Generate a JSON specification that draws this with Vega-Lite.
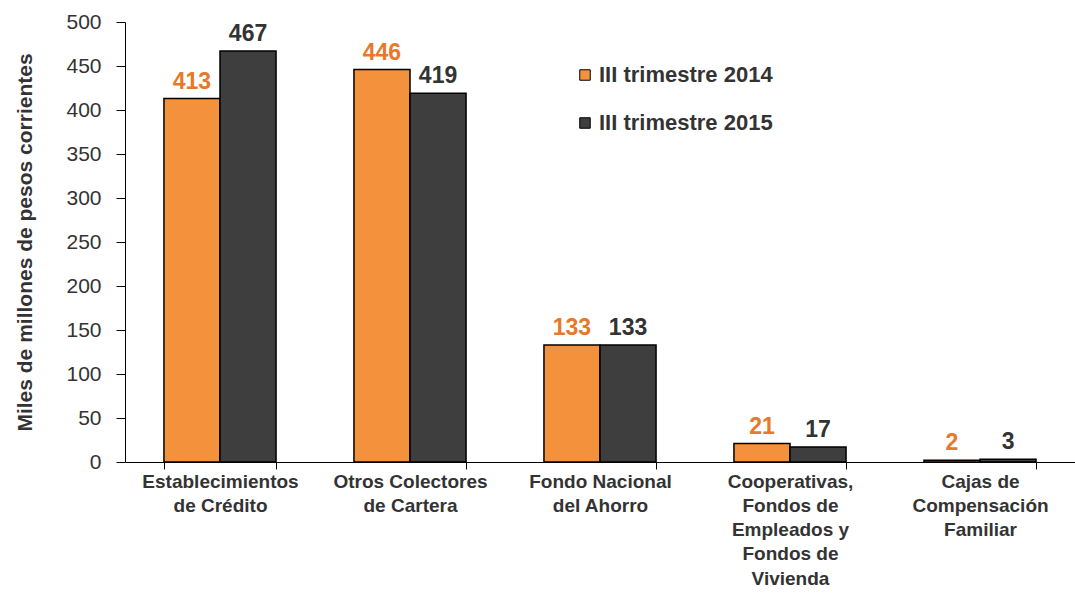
{
  "$schema": "https://vega.github.io/schema/vega-lite/v6.json",
  "width": 950,
  "height": 440,
  "autosize": "none",
  "padding": {"left": 125, "top": 22, "right": 0, "bottom": 131},
  "background": "white",
  "config": {"view": {"stroke": null}, "font": "Liberation Sans"},
  "data": {
    "values": [
      {"cat": "Establecimientos|de Crédito", "year": "III trimestre 2014", "value": 413},
      {"cat": "Establecimientos|de Crédito", "year": "III trimestre 2015", "value": 467},
      {"cat": "Otros Colectores|de Cartera", "year": "III trimestre 2014", "value": 446},
      {"cat": "Otros Colectores|de Cartera", "year": "III trimestre 2015", "value": 419},
      {"cat": "Fondo Nacional|del Ahorro", "year": "III trimestre 2014", "value": 133},
      {"cat": "Fondo Nacional|del Ahorro", "year": "III trimestre 2015", "value": 133},
      {"cat": "Cooperativas,|Fondos de|Empleados y|Fondos de|Vivienda", "year": "III trimestre 2014", "value": 21},
      {"cat": "Cooperativas,|Fondos de|Empleados y|Fondos de|Vivienda", "year": "III trimestre 2015", "value": 17},
      {"cat": "Cajas de|Compensación|Familiar", "year": "III trimestre 2014", "value": 2},
      {"cat": "Cajas de|Compensación|Familiar", "year": "III trimestre 2015", "value": 3}
    ]
  },
  "encoding": {
    "x": {
      "field": "cat", "type": "nominal", "sort": null,
      "scale": {"paddingInner": 0.41, "paddingOuter": 0.205},
      "axis": {
        "title": null, "labelAngle": 0, "tickBand": "extent",
        "labelExpr": "split(datum.label, '|')",
        "labelFont": "Liberation Sans", "labelFontSize": 19, "labelFontWeight": "bold",
        "labelColor": "#333333", "labelLineHeight": 24.3, "labelPadding": 3, "labelLimit": 250,
        "domainColor": "#000000", "tickColor": "#000000", "tickSize": 7, "labelBaseline": "top"
      }
    },
    "xOffset": {"field": "year", "type": "nominal", "scale": {"paddingInner": 0}},
    "y": {
      "field": "value", "type": "quantitative",
      "scale": {"domain": [0, 500], "nice": false},
      "axis": {
        "title": "Miles de millones  de pesos corrientes", "values": [0,50,100,150,200,250,300,350,400,450,500],
        "grid": false, "titleFont": "Liberation Sans", "titleFontSize": 21, "titleFontWeight": "bold",
        "titleColor": "#333333", "titlePadding": 30,
        "labelFont": "Liberation Sans", "labelFontSize": 21, "labelColor": "#333333", "labelPadding": 15,
        "domainColor": "#000000", "tickColor": "#000000", "tickSize": 9
      }
    }
  },
  "layer": [
    {
      "mark": {"type": "bar", "stroke": "#000000", "strokeWidth": 1.5},
      "encoding": {
        "color": {
          "field": "year", "type": "nominal",
          "scale": {"domain": ["III trimestre 2014", "III trimestre 2015"], "range": ["#F4913C", "#3E3E3E"]},
          "legend": {
            "title": null, "orient": "none", "legendX": 449, "legendY": 42,
            "symbolType": "square", "symbolSize": 110, "symbolStrokeColor": "#000000", "symbolStrokeWidth": 1,
            "labelFont": "Liberation Sans", "labelFontSize": 22, "labelFontWeight": "bold", "labelColor": "#333333",
            "labelLimit": 400, "rowPadding": 26, "labelOffset": 3
          }
        }
      }
    },
    {
      "mark": {"type": "text", "baseline": "bottom", "dy": -5, "font": "Liberation Sans", "fontSize": 23, "fontWeight": "bold"},
      "encoding": {
        "text": {"field": "value", "type": "quantitative"},
        "color": {"condition": {"test": "datum.year == 'III trimestre 2014'", "value": "#E8782A"}, "value": "#333333"}
      }
    }
  ]
}
